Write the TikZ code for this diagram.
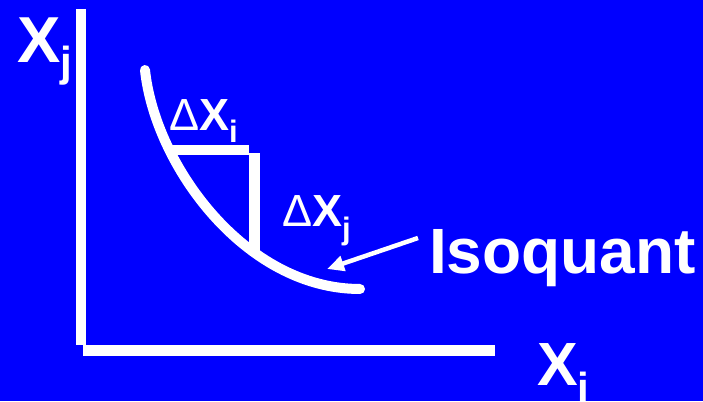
\documentclass[tikz,border=0pt]{standalone}
\usepackage{fontspec}
\setmainfont{Liberation Sans}
\usetikzlibrary{arrows.meta}
\definecolor{bg}{RGB}{0,0,255}
\tikzset{
  axis/.style={draw=white, line width=10.5pt, line cap=butt},
  curveline/.style={draw=white, line width=10pt, line cap=round},
  bracket/.style={draw=white, line width=10.5pt, line cap=butt},
  lbl/.style={text=white, anchor=base west, inner sep=0pt, outer sep=0pt},
  pointer/.style={draw=white, line width=4.5pt, -{Triangle[length=17pt,width=15pt]}}
}
\newcommand{\bigf}[1]{\fontsize{#1}{#1}\selectfont}
\begin{document}
\begin{tikzpicture}[x=1pt, y=-1pt]
  \fill[bg] (0,0) rectangle (703,401);
  \useasboundingbox (0,0) rectangle (703,401);
  % axes
  \coordinate (ytop) at (81,9);
  \coordinate (ybot) at (81,345);
  \coordinate (xleft) at (83,350.5);
  \coordinate (xright) at (495,350.5);
  \draw[axis] (ytop) -- (ybot);
  \draw[axis] (xleft) -- (xright);
  % isoquant curve
  \coordinate (cstart) at (145,70);
  \coordinate (cend) at (360,289);
  \draw[curveline] (cstart) .. controls (155,165) and (245,289) .. (cend);
  % delta bracket
  \coordinate (b1) at (167,150);
  \coordinate (b2) at (249,150);
  \coordinate (b3) at (254.5,153);
  \coordinate (b4) at (254.5,252);
  \draw[bracket] (b1) -- (b2);
  \draw[bracket] (b3) -- (b4);
  % labels
  \node[lbl] (lxj) at (17,63) {\bigf{65}\bfseries X\raisebox{-14pt}{\bigf{42}j}};
  \node[lbl] (ldxi) at (169,130) {\bigf{45}Δ\bfseries X\raisebox{-13pt}{\bigf{31}i}};
  \node[lbl] (ldxj) at (282,226) {\bigf{45}Δ\bfseries X\raisebox{-13.5pt}{\bigf{31}j}};
  \node[lbl] (liso) at (429,273) {\bigf{64}\bfseries Isoquant};
  \node[lbl] (lxi) at (537,385) {\bigf{61}\bfseries X\raisebox{-17pt}{\bigf{42}i}};
  % pointer arrow
  \coordinate (atail) at (418,238);
  \coordinate (atip) at (327,269);
  \draw[pointer] (atail) -- (atip);
\end{tikzpicture}
\end{document}
